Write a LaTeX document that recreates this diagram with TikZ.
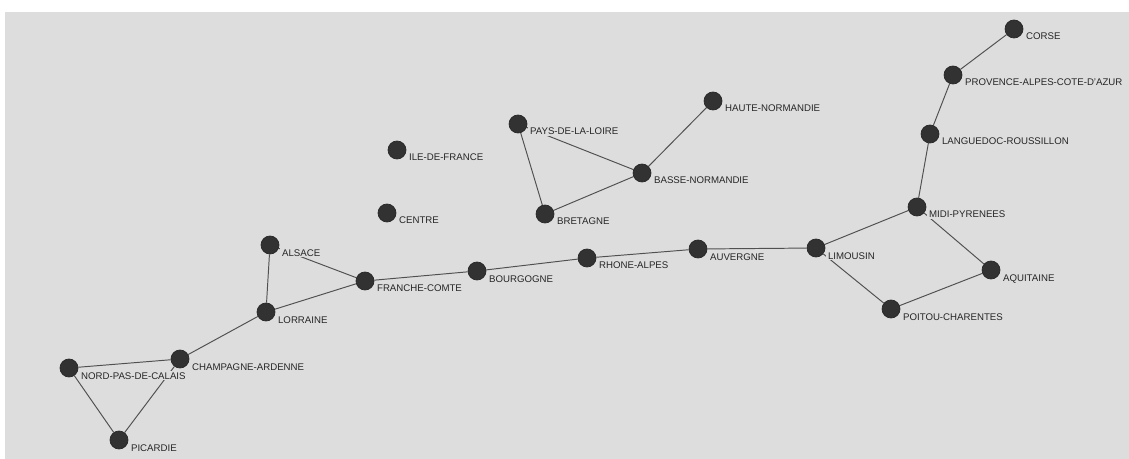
\documentclass[tikz,border=0pt]{standalone}
\usepackage{fontspec}
\setmainfont{Liberation Sans}
\usetikzlibrary{backgrounds}
\definecolor{bgc}{RGB}{221,221,221}
\definecolor{dotc}{RGB}{50,50,50}
\definecolor{edgec}{RGB}{80,80,80}

\begin{document}
\begin{tikzpicture}[x=0.02cm, y=-0.02cm,
  region/.style={circle, fill=dotc, draw=dotc!80!black, line width=0.4pt,
    minimum size=0.36cm, inner sep=0pt},
  lbl/.style={anchor=base west, fill=bgc, inner xsep=1pt, inner ysep=0.5pt,
    text=black!85, font=\fontsize{5.5}{6}\selectfont},
  link/.style={draw=edgec, line width=0.55pt}]
\useasboundingbox (0,0) rectangle (1129,459);
% regions
\node[region] (nord) at (69,368) {};
\node[region] (champ) at (180,359) {};
\node[region] (pic) at (119,440) {};
\node[region] (als) at (270,245) {};
\node[region] (lor) at (266,312) {};
\node[region] (fc) at (365,281) {};
\node[region] (bourg) at (477,271) {};
\node[region] (ra) at (587,258) {};
\node[region] (auv) at (698,249) {};
\node[region] (lim) at (816,248) {};
\node[region] (midi) at (917,207) {};
\node[region] (aqu) at (991,270) {};
\node[region] (poit) at (891,309) {};
\node[region] (lang) at (930,134) {};
\node[region] (paca) at (953,75) {};
\node[region] (cors) at (1014,29) {};
\node[region] (pdl) at (518,124) {};
\node[region] (hn) at (713,101) {};
\node[region] (bn) at (642,173) {};
\node[region] (bret) at (545,214) {};
\node[region] (idf) at (397,150) {};
\node[region] (cent) at (387,213) {};
% names
\node[lbl] (nord-l) at ([shift={(10,11)}]nord.center) {NORD-PAS-DE-CALAIS};
\node[lbl] (champ-l) at ([shift={(10,11)}]champ.center) {CHAMPAGNE-ARDENNE};
\node[lbl] (pic-l) at ([shift={(10,11)}]pic.center) {PICARDIE};
\node[lbl] (als-l) at ([shift={(10,11)}]als.center) {ALSACE};
\node[lbl] (lor-l) at ([shift={(10,11)}]lor.center) {LORRAINE};
\node[lbl] (fc-l) at ([shift={(10,11)}]fc.center) {FRANCHE-COMTE};
\node[lbl] (bourg-l) at ([shift={(10,11)}]bourg.center) {BOURGOGNE};
\node[lbl] (ra-l) at ([shift={(10,11)}]ra.center) {RHONE-ALPES};
\node[lbl] (auv-l) at ([shift={(10,11)}]auv.center) {AUVERGNE};
\node[lbl] (lim-l) at ([shift={(10,11)}]lim.center) {LIMOUSIN};
\node[lbl] (midi-l) at ([shift={(10,11)}]midi.center) {MIDI-PYRENEES};
\node[lbl] (aqu-l) at ([shift={(10,11)}]aqu.center) {AQUITAINE};
\node[lbl] (poit-l) at ([shift={(10,11)}]poit.center) {POITOU-CHARENTES};
\node[lbl] (lang-l) at ([shift={(10,11)}]lang.center) {LANGUEDOC-ROUSSILLON};
\node[lbl] (paca-l) at ([shift={(10,11)}]paca.center) {PROVENCE-ALPES-COTE-D'AZUR};
\node[lbl] (cors-l) at ([shift={(10,11)}]cors.center) {CORSE};
\node[lbl] (pdl-l) at ([shift={(10,11)}]pdl.center) {PAYS-DE-LA-LOIRE};
\node[lbl] (hn-l) at ([shift={(10,11)}]hn.center) {HAUTE-NORMANDIE};
\node[lbl] (bn-l) at ([shift={(10,11)}]bn.center) {BASSE-NORMANDIE};
\node[lbl] (bret-l) at ([shift={(10,11)}]bret.center) {BRETAGNE};
\node[lbl] (idf-l) at ([shift={(10,11)}]idf.center) {ILE-DE-FRANCE};
\node[lbl] (cent-l) at ([shift={(10,11)}]cent.center) {CENTRE};
% links
\begin{scope}[on background layer]
\fill[bgc] (5,12) rectangle (1129,459);
\draw[link] (nord)--(champ)--(pic)--(nord);
\draw[link] (champ)--(lor)--(als)--(fc)--(lor);
\draw[link] (fc)--(bourg)--(ra)--(auv)--(lim);
\draw[link] (lim)--(midi)--(aqu)--(poit)--(lim);
\draw[link] (midi)--(lang)--(paca)--(cors);
\draw[link] (pdl)--(bn)--(bret)--(pdl);
\draw[link] (bn)--(hn);
\end{scope}
\end{tikzpicture}
\end{document}
